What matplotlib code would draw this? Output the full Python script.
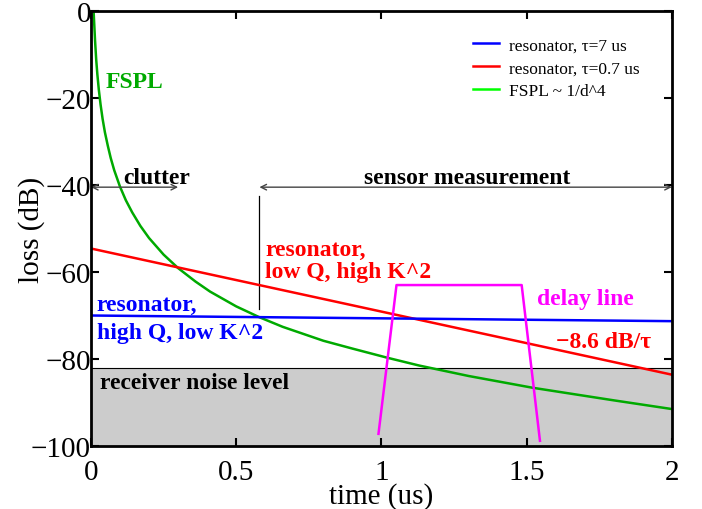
import matplotlib
matplotlib.use("Agg")
import matplotlib.pyplot as plt
from matplotlib.lines import Line2D

plt.rcParams['font.family'] = ['Liberation Serif', 'DejaVu Serif']

# curves (time in us, loss in dB)
fspl_t = [0.009, 0.014, 0.018, 0.022, 0.027, 0.033, 0.04, 0.048, 0.058, 0.068, 0.08,
          0.1, 0.12, 0.142, 0.17, 0.2, 0.25, 0.3, 0.36, 0.41, 0.5, 0.58, 0.66, 0.8,
          0.9, 1.02, 1.13, 1.3, 1.52, 1.8, 2.0]
fspl_db = [0, -6.8, -11.2, -14.6, -18.1, -21.5, -24.8, -27.9, -31.0, -33.8, -36.6,
           -40.4, -43.5, -46.3, -49.4, -52.2, -56.0, -59.1, -62.2, -64.5, -67.9, -70.4,
           -72.6, -75.8, -77.6, -79.7, -81.5, -83.9, -86.6, -89.5, -91.5]

res_low_t = [0, 2]
res_low_db = [-54.6, -83.6]   # tau = 0.7 us
res_high_t = [0, 2]
res_high_db = [-70.0, -71.3]  # tau = 7 us

delay_t = [0.99, 1.052, 1.483, 1.546]
delay_db = [-97.2, -63.0, -63.0, -98.8]

noise_top = -82
xticks = [0, 0.5, 1, 1.5, 2]
yticks = [0, -20, -40, -60, -80, -100]

fig = plt.figure(figsize=(7.02, 5.10), dpi=100)
ax = fig.add_axes([0.1296, 0.1235, 0.8274, 0.853])

ax.fill_between([0, 2], [noise_top, noise_top], [-100, -100], facecolor='#cccccc',
                edgecolor='none', zorder=1)
ax.plot([0, 2], [noise_top, noise_top], color='black', lw=0.8, zorder=1.5)

ax.plot(fspl_t, fspl_db, color='#00aa00', lw=1.8, zorder=3)
ax.plot(res_low_t, res_low_db, color='red', lw=1.8, zorder=3)
ax.plot(res_high_t, res_high_db, color='blue', lw=1.8, zorder=3)
ax.plot(delay_t, delay_db, color='magenta', lw=1.8, zorder=3)

# arrows for clutter / sensor measurement
arrow = dict(arrowstyle='<->', color='#444444', lw=1.0, shrinkA=0, shrinkB=0)
ax.annotate('', xy=(0, -40.5), xytext=(0.3, -40.5), arrowprops=arrow)
ax.annotate('', xy=(0.58, -40.5), xytext=(2, -40.5), arrowprops=arrow)
ax.plot([0.58, 0.58], [-42.5, -68.5], color='black', lw=0.9)

fs = 17
ax.text(0.227, -39.6, 'clutter', fontsize=fs, fontweight='bold', ha='center',
        va='baseline')
ax.text(1.295, -39.6, 'sensor measurement', fontsize=fs, fontweight='bold',
        ha='center', va='baseline')
ax.text(0.05, -16.3, 'FSPL', fontsize=fs, fontweight='bold', color='#00aa00',
        ha='left', va='center')
ax.text(0.6, -57.4, 'resonator,\nlow Q, high K^2', fontsize=fs, fontweight='bold',
        color='red', ha='left', va='center', linespacing=1.1)
ax.text(0.02, -70.6, 'resonator,\nhigh Q, low K^2', fontsize=fs, fontweight='bold',
        color='blue', ha='left', va='center', linespacing=1.45)
ax.text(1.535, -66.2, 'delay line', fontsize=fs, fontweight='bold', color='magenta',
        ha='left', va='center')
ax.text(1.6, -76.0, '\u22128.6 dB/\u03c4', fontsize=fs, fontweight='bold', color='red',
        ha='left', va='center')
ax.text(0.03, -85.5, 'receiver noise level', fontsize=fs, fontweight='bold',
        ha='left', va='center')

handles = [Line2D([], [], color='blue', lw=1.8),
           Line2D([], [], color='red', lw=1.8),
           Line2D([], [], color='#00ff00', lw=1.8)]
labels = ['resonator, \u03c4=7 us', 'resonator, \u03c4=0.7 us', 'FSPL ~ 1/d^4']
ax.legend(handles, labels, loc='upper right', bbox_to_anchor=(0.96, 0.96),
          frameon=False, fontsize=12.5, handlelength=1.5, handletextpad=0.6,
          labelspacing=0.4, borderpad=0)

ax.set_xlim(0, 2)
ax.set_ylim(-100, 0)
ax.set_xticks(xticks)
ax.set_xticklabels(['0', '0.5', '1', '1.5', '2'])
ax.set_yticks(yticks)
ax.set_yticklabels(['0', '\u221220', '\u221240', '\u221260', '\u221280', '\u2212100'])
ax.tick_params(direction='in', length=6, width=1.5, labelsize=21, top=True, right=True)
ax.tick_params(axis='x', pad=9)
ax.tick_params(axis='y', pad=0)
for s in ax.spines.values():
    s.set_linewidth(2)
    s.set_zorder(5)

ax.set_xlabel('time (us)', fontsize=21, labelpad=-2)
ax.set_ylabel('loss (dB)', fontsize=21, labelpad=-10)

fig.savefig('out.png', dpi=100)
